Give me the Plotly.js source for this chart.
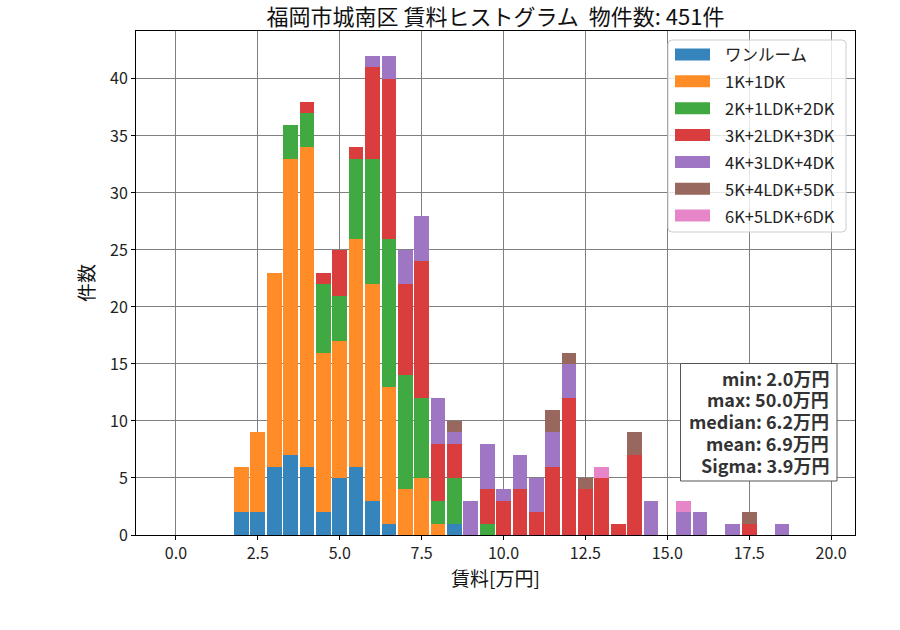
<!DOCTYPE html>
<html>
<head>
<meta charset="utf-8">
<script src="https://cdn.plot.ly/plotly-3.0.1.min.js"></script>
<style>
  html, body { margin: 0; padding: 0; background: #fff; }
  #chart { width: 900px; height: 630px; }
</style>
</head>
<body>
<div id="chart"></div>
<script>
// Rent bins (万円), 0.5 wide, labelled by their centre
const rentBins = [2.0, 2.5, 3.0, 3.5, 4.0, 4.5, 5.0, 5.5, 6.0, 6.5, 7.0, 7.5, 8.0, 8.5,
                  9.0, 9.5, 10.0, 10.5, 11.0, 11.5, 12.0, 12.5, 13.0, 13.5, 14.0, 14.5,
                  15.0, 15.5, 16.0, 16.5, 17.0, 17.5, 18.0, 18.5];

// Counts per floor-plan group in each bin
const oneRoom  = [2, 2, 6, 7, 6, 2, 5, 6, 3, 1, 0, 0, 0, 1, 0, 0, 0, 0, 0, 0, 0, 0, 0, 0, 0, 0, 0, 0, 0, 0, 0, 0, 0, 0];
const k1       = [4, 7, 17, 26, 28, 14, 12, 20, 19, 12, 4, 5, 1, 0, 0, 0, 0, 0, 0, 0, 0, 0, 0, 0, 0, 0, 0, 0, 0, 0, 0, 0, 0, 0];
const k2       = [0, 0, 0, 3, 3, 6, 4, 7, 11, 13, 10, 7, 2, 4, 0, 1, 0, 0, 0, 0, 0, 0, 0, 0, 0, 0, 0, 0, 0, 0, 0, 0, 0, 0];
const k3       = [0, 0, 0, 0, 1, 1, 4, 1, 8, 14, 8, 12, 5, 3, 0, 3, 3, 4, 2, 6, 12, 4, 5, 1, 7, 0, 0, 0, 0, 0, 0, 1, 0, 0];
const k4       = [0, 0, 0, 0, 0, 0, 0, 0, 1, 2, 3, 4, 4, 1, 3, 4, 1, 3, 3, 3, 3, 0, 0, 0, 0, 3, 0, 2, 2, 0, 1, 0, 0, 1];
const k5       = [0, 0, 0, 0, 0, 0, 0, 0, 0, 0, 0, 0, 0, 1, 0, 0, 0, 0, 0, 2, 1, 1, 0, 0, 2, 0, 0, 0, 0, 0, 0, 1, 0, 0];
const k6       = [0, 0, 0, 0, 0, 0, 0, 0, 0, 0, 0, 0, 0, 0, 0, 0, 0, 0, 0, 0, 0, 0, 1, 0, 0, 0, 0, 1, 0, 0, 0, 0, 0, 0];

const seriesNames = ['ワンルーム', '1K+1DK', '2K+1LDK+2DK', '3K+2LDK+3DK', '4K+3LDK+4DK', '5K+4LDK+5DK', '6K+5LDK+6DK'];
const seriesValues = [oneRoom, k1, k2, k3, k4, k5, k6];
const seriesColors = ['#3584bb', '#ff8c26', '#41a941', '#da3d3e', '#9f76c4', '#98675d', '#e685c8'];

const xTicks = [0, 2.5, 5, 7.5, 10, 12.5, 15, 17.5, 20];
const xTickLabels = ['0.0', '2.5', '5.0', '7.5', '10.0', '12.5', '15.0', '17.5', '20.0'];
const yTicks = [0, 5, 10, 15, 20, 25, 30, 35, 40];

const statLines = ['min: 2.0万円', 'max: 50.0万円', 'median: 6.2万円', 'mean: 6.9万円', 'Sigma: 3.9万円'];

const FONT = '"Noto Sans CJK JP", "Noto Sans", sans-serif';

// Plot-area geometry in page pixels, used to place the legend and stats box
const W = 900, H = 630;
const M = { l: 136, r: 45, t: 31, b: 95 };
const plotW = W - M.l - M.r, plotH = H - M.t - M.b;
const px = x => (x - M.l) / plotW;
const py = y => (H - M.b - y) / plotH;

const traces = seriesNames.map((name, i) => ({
  type: 'bar',
  name: name,
  x: rentBins,
  y: seriesValues[i],
  marker: { color: seriesColors[i], line: { width: 0 } },
  showlegend: false,
  hoverinfo: 'x+y+name'
}));

// Rounded rectangle path in paper coordinates
function roundRect(x0, y0, x1, y1, r) {
  const rx = r / plotW, ry = r / plotH;
  const X0 = px(x0), X1 = px(x1), Y0 = py(y0), Y1 = py(y1);
  return `M ${X0 + rx},${Y0} L ${X1 - rx},${Y0} Q ${X1},${Y0} ${X1},${Y0 - ry} ` +
         `L ${X1},${Y1 + ry} Q ${X1},${Y1} ${X1 - rx},${Y1} L ${X0 + rx},${Y1} ` +
         `Q ${X0},${Y1} ${X0},${Y1 + ry} L ${X0},${Y0 - ry} Q ${X0},${Y0} ${X0 + rx},${Y0} Z`;
}

const shapes = [];
const annotations = [];

// Legend: frame, colour patches and labels
shapes.push({
  type: 'path', xref: 'paper', yref: 'paper',
  path: roundRect(668, 40, 846, 232, 4),
  fillcolor: 'rgba(255,255,255,0.8)',
  line: { color: '#cccccc', width: 1 }
});
seriesNames.forEach((name, i) => {
  const yc = 54.5 + i * 26.85;
  shapes.push({
    type: 'rect', xref: 'paper', yref: 'paper',
    x0: px(675), x1: px(710), y0: py(yc + 6), y1: py(yc - 6),
    fillcolor: seriesColors[i], line: { width: 0 }
  });
  annotations.push({
    xref: 'paper', yref: 'paper',
    x: px(723), xanchor: 'left', y: py(yc), yanchor: 'middle',
    text: name, showarrow: false,
    font: { family: FONT, size: 16.5, color: '#222' }
  });
});

// Summary statistics box
shapes.push({
  type: 'rect', xref: 'paper', yref: 'paper',
  x0: px(680.5), x1: px(837), y0: py(481), y1: py(363.5),
  fillcolor: '#ffffff', line: { color: '#555555', width: 1 }
});
statLines.forEach((s, i) => {
  annotations.push({
    xref: 'paper', yref: 'paper',
    x: px(831), xanchor: 'right', y: py(377.5 + i * 21.9), yanchor: 'middle',
    text: '<b>' + s + '</b>', showarrow: false,
    font: { family: FONT, size: 18, color: '#333' }
  });
});

const layout = {
  width: W,
  height: H,
  margin: { l: M.l, r: M.r, t: M.t, b: M.b, pad: 0 },
  paper_bgcolor: '#ffffff',
  plot_bgcolor: '#ffffff',
  barmode: 'stack',
  bargap: 0.1,
  font: { family: FONT, size: 16, color: '#222' },
  title: {
    text: '福岡市城南区 賃料ヒストグラム  物件数: 451件',
    font: { family: FONT, size: 22, color: '#111' },
    x: 0.5, xanchor: 'center', xref: 'paper',
    y: 0.972, yanchor: 'middle'
  },
  xaxis: {
    range: [-1.22, 20.73],
    tickvals: xTicks,
    ticktext: xTickLabels,
    ticks: 'outside', ticklen: 4, tickcolor: '#000',
    showgrid: true, gridcolor: '#808080', gridwidth: 1,
    showline: true, linecolor: '#000', linewidth: 1, mirror: true,
    zeroline: false,
    tickfont: { family: FONT, size: 16, color: '#222' },
    title: { text: '賃料[万円]', font: { family: FONT, size: 19, color: '#111' }, standoff: 6 }
  },
  yaxis: {
    range: [0, 44.2],
    tickvals: yTicks,
    ticks: 'outside', ticklen: 4, tickcolor: '#000',
    showgrid: true, gridcolor: '#808080', gridwidth: 1,
    showline: true, linecolor: '#000', linewidth: 1, mirror: true,
    zeroline: false,
    tickfont: { family: FONT, size: 16, color: '#222' },
    title: { text: '件数', font: { family: FONT, size: 19, color: '#111' }, standoff: 10 }
  },
  shapes: shapes,
  annotations: annotations
};

Plotly.newPlot('chart', traces, layout, { displayModeBar: false, staticPlot: true });
</script>
</body>
</html>
